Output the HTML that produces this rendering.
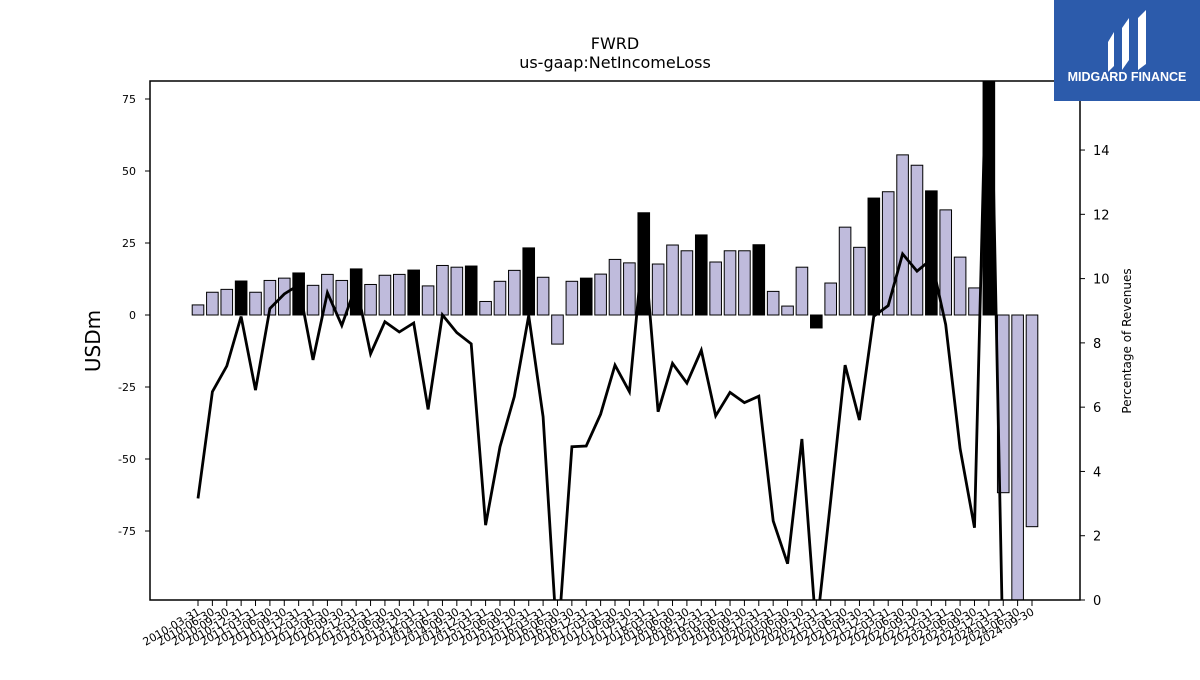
<!DOCTYPE html>
<html><head><meta charset="utf-8"><style>
body{margin:0;background:#fff;width:1200px;height:675px;overflow:hidden;font-family:"Liberation Sans","DejaVu Sans",sans-serif}
svg text{font-family:"DejaVu Sans","Liberation Sans",sans-serif}
</style></head><body>
<svg id="chart" width="1200" height="675" viewBox="0 0 1200 675">
<defs><clipPath id="plotclip"><rect x="150" y="81" width="930" height="519"/></clipPath></defs>
<text x="615" y="49" font-size="16" text-anchor="middle">FWRD</text>
<text x="615" y="68" font-size="16" text-anchor="middle">us-gaap:NetIncomeLoss</text>
<g id="bars" clip-path="url(#plotclip)"></g>
<g id="line" clip-path="url(#plotclip)"></g>
<rect x="150" y="81" width="930" height="519" fill="none" stroke="#000" stroke-width="1.5"/>
<g id="leftAxis"></g>
<g id="rightAxis"></g>
<g id="xAxis"></g>
<text transform="translate(100,341) rotate(-90)" font-size="20" text-anchor="middle">USDm</text>
<text transform="translate(1131,341) rotate(-90)" font-size="12" text-anchor="middle">Percentage of Revenues</text>
<g>
<rect x="1054" y="0" width="146" height="101" fill="#2c5bab"/>
<path d="M1108,42 L1114,32 L1114,66 L1108,72 Z" fill="#fff"/>
<path d="M1122,28 L1129,18 L1129,60 L1122,70 Z" fill="#fff"/>
<path d="M1138,18 L1146,10 L1146,64 L1138,70 Z" fill="#fff"/>
<text x="1127" y="81" font-size="12.5" font-weight="bold" fill="#fff" text-anchor="middle" style="font-family:'Liberation Sans',sans-serif">MIDGARD FINANCE</text>
</g>
</svg>
<script>
const categories=["2010-03-31","2010-06-30","2010-09-30","2010-12-31","2011-03-31","2011-06-30","2011-09-30","2011-12-31","2012-03-31","2012-06-30","2012-09-30","2012-12-31","2013-03-31","2013-06-30","2013-09-30","2013-12-31","2014-03-31","2014-06-30","2014-09-30","2014-12-31","2015-03-31","2015-06-30","2015-09-30","2015-12-31","2016-03-31","2016-06-30","2016-09-30","2016-12-31","2017-03-31","2017-06-30","2017-09-30","2017-12-31","2018-03-31","2018-06-30","2018-09-30","2018-12-31","2019-03-31","2019-06-30","2019-09-30","2019-12-31","2020-03-31","2020-06-30","2020-09-30","2020-12-31","2021-03-31","2021-06-30","2021-09-30","2021-12-31","2022-03-31","2022-06-30","2022-09-30","2022-12-31","2023-03-31","2023-06-30","2023-09-30","2023-12-31","2024-03-31","2024-06-30","2024-09-30"];
const netIncome=[3.5,7.9,8.9,11.8,7.9,12.0,12.8,14.6,10.3,14.1,12.0,16.0,10.6,13.8,14.1,15.6,10.1,17.2,16.6,17.0,4.7,11.7,15.5,23.3,13.1,-10.1,11.7,12.8,14.2,19.3,18.1,35.5,17.7,24.3,22.3,27.8,18.4,22.3,22.3,24.4,8.2,3.1,16.6,-4.5,11.1,30.5,23.5,40.6,42.8,55.6,52.0,43.1,36.5,20.1,9.4,120,-61.7,-130,-73.5];
const pctRevenue=[3.16,6.48,7.28,8.82,6.53,9.07,9.52,9.8,7.47,9.56,8.54,9.8,7.66,8.66,8.34,8.62,5.93,8.87,8.32,7.97,2.33,4.77,6.33,8.85,5.70,-1.5,4.77,4.79,5.78,7.31,6.48,11.2,5.86,7.36,6.75,7.77,5.73,6.46,6.14,6.34,2.46,1.13,5.01,-1,3.1,7.31,5.6,8.83,9.16,10.77,10.23,10.6,8.57,4.71,2.25,20,-2,null,null];
const leftTicks=[-75,-50,-25,0,25,50,75];
const rightTicks=[0,2,4,6,8,10,12,14];
const NS="http://www.w3.org/2000/svg";
const x=i=>198+i*(1032-198)/58;
const yL=v=>315-v*2.88;
const yR=v=>600-v*32.14;
function mk(tag,attrs,parent){const e=document.createElementNS(NS,tag);for(const k in attrs)e.setAttribute(k,attrs[k]);parent.appendChild(e);return e;}
const bars=document.getElementById('bars');
netIncome.forEach((v,i)=>{
  const annual=categories[i].endsWith('12-31');
  const y0=yL(0),y1=yL(v);
  const r=mk('rect',{x:x(i)-5.8,y:Math.min(y0,y1),width:11.6,height:Math.abs(y1-y0),fill:annual?'#000':'#bfbbdc',stroke:'#000','stroke-width':1},bars);
  
  
});
let d='';
pctRevenue.forEach((v,i)=>{if(v===null)return;d+=(d?'L':'M')+x(i).toFixed(1)+','+yR(v).toFixed(1);});
const p=mk('path',{d:d,fill:'none',stroke:'#000','stroke-width':2.8,'stroke-linejoin':'miter'},document.getElementById('line'));


const la=document.getElementById('leftAxis');
leftTicks.forEach(t=>{
  mk('line',{x1:145,x2:150,y1:yL(t),y2:yL(t),stroke:'#000'},la);
  const tx=mk('text',{x:136,y:yL(t)+4,'font-size':11,'text-anchor':'end'},la);
  tx.textContent=t;
  
  
});
const ra=document.getElementById('rightAxis');
rightTicks.forEach(t=>{
  mk('line',{x1:1080,x2:1085,y1:yR(t),y2:yR(t),stroke:'#000'},ra);
  const tx=mk('text',{x:1093,y:yR(t)+5,'font-size':13},ra);
  tx.textContent=t;
  
  
});
const xa=document.getElementById('xAxis');
categories.forEach((c,i)=>{
  mk('line',{x1:x(i),x2:x(i),y1:600,y2:606,stroke:'#000'},xa);
  const tx=mk('text',{transform:`translate(${x(i)+3},${614}) rotate(-30)`,'font-size':11,'text-anchor':'end'},xa);
  tx.textContent=c;
  
  
});
</script>
</body></html>
